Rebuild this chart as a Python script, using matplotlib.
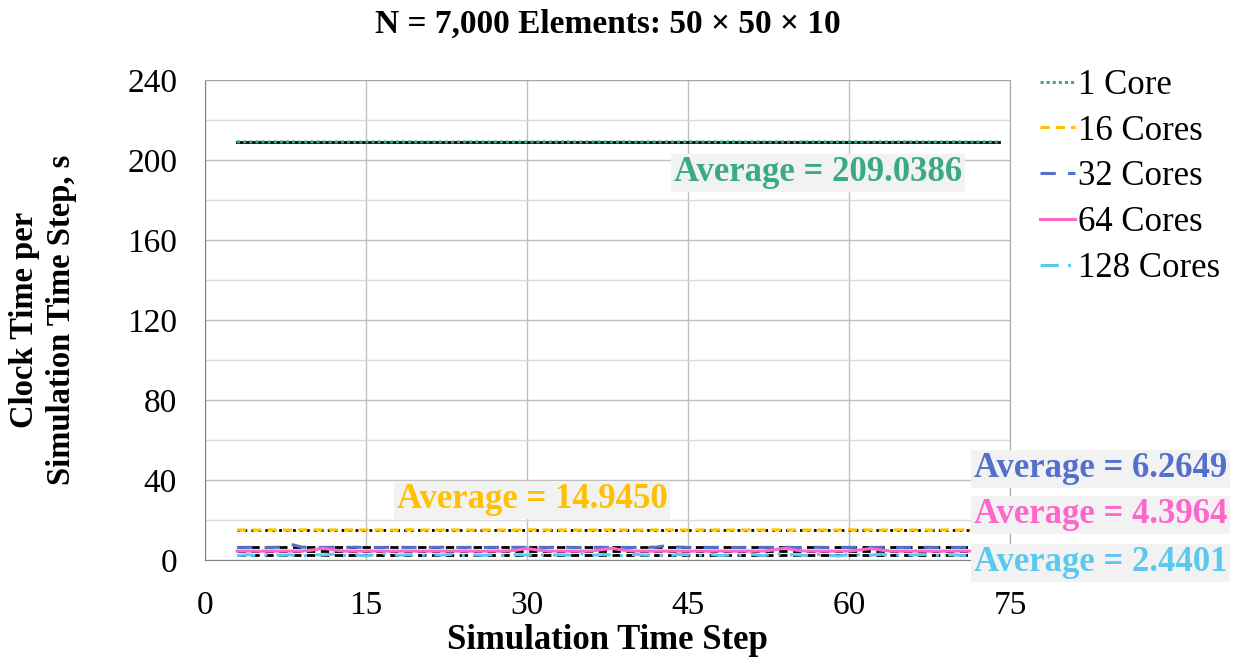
import matplotlib
matplotlib.use("Agg")
import matplotlib.pyplot as plt

plt.rcParams['font.family'] = ['Liberation Serif', 'DejaVu Serif']

steps = list(range(3, 75))

core1 = [209.05, 209.02, 209.08, 209.01, 209.04, 209.06, 208.99, 209.03, 209.07, 209.02, 209.05, 209.00,
         209.04, 209.06, 209.01, 209.03, 209.08, 209.02, 209.05, 209.03, 208.98, 209.04, 209.07, 209.02,
         209.03, 209.05, 209.01, 209.06, 209.04, 209.02, 209.07, 209.03, 209.00, 209.05, 209.04, 209.02,
         209.06, 209.03, 209.01, 209.05, 209.08, 209.02, 209.04, 209.03, 209.06, 209.00, 209.04, 209.05,
         209.02, 209.07, 209.03, 209.04, 209.01, 209.05, 209.06, 209.02, 209.04, 209.03, 208.99, 209.05,
         209.04, 209.02, 209.06, 209.03, 209.05, 209.01, 209.04, 209.07, 209.03, 209.02, 209.05, 209.04]
core16 = [14.92, 14.98, 14.90, 15.01, 14.95, 14.88, 14.97, 15.05, 14.93, 14.96, 14.91, 15.02,
          14.94, 14.99, 14.89, 14.95, 15.10, 14.92, 14.97, 14.93, 14.96, 15.00, 14.90, 14.95,
          14.98, 14.91, 14.94, 15.03, 14.96, 14.92, 14.95, 14.99, 14.90, 14.97, 14.94, 15.01,
          14.93, 14.96, 14.92, 14.98, 14.95, 15.04, 14.91, 14.96, 14.93, 14.99, 14.94, 14.90,
          14.97, 14.95, 15.02, 14.92, 14.96, 14.93, 14.98, 14.91, 14.95, 15.00, 14.94, 14.97,
          14.92, 14.96, 14.99, 14.93, 14.95, 14.90, 14.97, 14.94, 15.01, 14.92, 14.96, 14.95]
core32 = [6.20, 6.25, 6.30, 6.22, 6.35, 7.80, 6.40, 6.18, 6.24, 6.28, 6.21, 6.33,
          6.25, 6.19, 6.27, 6.30, 6.22, 6.26, 6.24, 6.31, 6.20, 6.25, 6.28, 6.23,
          6.26, 6.21, 6.29, 6.24, 6.27, 6.22, 6.30, 6.25, 6.19, 6.26, 6.28, 6.23,
          6.25, 6.21, 6.27, 6.35, 7.10, 6.40, 6.22, 6.26, 6.24, 6.29, 6.21, 6.25,
          6.27, 6.23, 6.26, 6.30, 6.20, 6.25, 6.28, 6.22, 6.26, 6.24, 6.31, 6.21,
          6.25, 6.27, 6.23, 6.26, 6.29, 6.22, 6.25, 6.24, 6.28, 6.21, 6.26, 6.25]
core64 = [4.38, 4.40, 4.35, 4.42, 4.39, 4.41, 4.37, 4.90, 5.80, 4.95, 4.36, 4.40,
          4.38, 4.42, 4.35, 4.39, 4.41, 4.37, 4.40, 4.36, 4.43, 4.38, 4.40, 4.35,
          4.39, 4.41, 4.85, 5.70, 4.90, 4.37, 4.40, 4.38, 4.36, 4.42, 5.10, 5.80,
          4.80, 4.38, 4.40, 4.35, 4.39, 4.41, 4.37, 4.40, 4.36, 4.42, 4.38, 4.39,
          4.41, 4.37, 5.00, 5.90, 4.90, 4.38, 4.40, 4.36, 4.39, 4.41, 4.95, 5.70,
          4.85, 4.37, 4.40, 4.38, 4.42, 4.36, 4.39, 4.41, 4.37, 4.40, 4.38, 4.39]
core128 = [2.10, 2.60, 1.90, 2.80, 2.30, 2.50, 1.80, 2.70, 2.40, 2.90, 2.20, 2.60,
           1.95, 2.75, 3.20, 2.30, 2.55, 2.05, 2.65, 2.35, 2.85, 2.15, 2.50, 2.25,
           2.70, 1.90, 2.60, 2.40, 2.80, 2.10, 2.55, 2.30, 3.10, 2.20, 2.65, 2.45,
           2.00, 2.75, 2.35, 2.60, 1.85, 2.70, 2.50, 2.25, 2.90, 2.15, 2.55, 2.40,
           2.80, 2.05, 3.30, 2.45, 2.60, 2.20, 2.70, 2.35, 1.95, 2.65, 2.50, 2.30,
           2.85, 2.10, 2.55, 2.40, 2.75, 2.20, 2.60, 2.45, 2.00, 2.70, 2.35, 2.55]

labels = ['1 Core', '16 Cores', '32 Cores', '64 Cores', '128 Cores']
averages = [209.0386, 14.9450, 6.2649, 4.3964, 2.4401]
colors = ['#3aaa85', '#ffc000', '#5470cc', '#ff66cc', '#5bc8f0']

fig = plt.figure(figsize=(12.34, 6.61), dpi=100)
ax = fig.add_axes([0.166, 0.153, 0.6525, 0.726])

series = [core1, core16, core32, core64, core128]
styles = [(0, (1, 1)), (0, (3, 2)), (0, (5, 4)), '-', (0, (6, 3, 1, 3))]
avg_styles = ['-', (0, (1, 1.5)), (0, (3, 2)), (0, (3, 2)), (0, (3, 2))]
for s, lab, col, ls in zip(series, labels, colors, styles):
    ax.plot(steps, s, color=col, linestyle=ls, linewidth=2.2, label=lab, zorder=3)
for avg, ls in zip(averages, avg_styles):
    ax.plot([steps[0], steps[-1]], [avg, avg], color='black', linestyle=ls, linewidth=2, zorder=2)

ax.set_xlim(0, 75)
ax.set_ylim(0, 240)
ax.set_xticks([0, 15, 30, 45, 60, 75])
ax.set_yticks(range(0, 241, 40))
ax.set_yticks(range(0, 241, 20), minor=True)
ax.grid(True, which='major', color='#bfbfbf', linewidth=1)
ax.grid(True, which='minor', axis='y', color='#d9d9d9', linewidth=1)
ax.set_axisbelow(True)
ax.tick_params(axis='both', which='both', labelsize=24, length=0)
ax.tick_params(axis='y', pad=20)
ax.tick_params(axis='x', pad=22)
for sp in ax.spines.values():
    sp.set_color('#a6a6a6')
ax.spines['left'].set_color('#808080')
ax.spines['bottom'].set_color('#808080')

ax.set_title('N = 7,000 Elements: 50 \u00d7 50 \u00d7 10', fontsize=24, fontweight='bold', pad=34)
ax.set_xlabel('Simulation Time Step', fontsize=25, fontweight='bold', labelpad=2)
ax.set_ylabel('Clock Time per\nSimulation Time Step, s', fontsize=23.5, fontweight='bold', labelpad=36,
              linespacing=1.25)

# average labels
label_pos = [(57.1, 193.5), (30.5, 30), (83.4, 45.5), (83.4, 22.5), (83.4, -1.5)]
for avg, col, (lx, ly) in zip(averages, colors, label_pos):
    ax.text(lx, ly, 'Average = %.4f' % avg, color=col, fontsize=25, fontweight='bold',
            ha='center', va='center', clip_on=False, zorder=5,
            bbox=dict(facecolor='#f2f2f2', edgecolor='none', pad=2))

leg = fig.legend(loc='upper left', bbox_to_anchor=(0.843, 0.896), bbox_transform=fig.transFigure,
                 frameon=False, fontsize=25, borderpad=0, borderaxespad=0,
                 handlelength=1.0, handletextpad=0.1, labelspacing=0.37)

fig.savefig('out.png', dpi=100)
